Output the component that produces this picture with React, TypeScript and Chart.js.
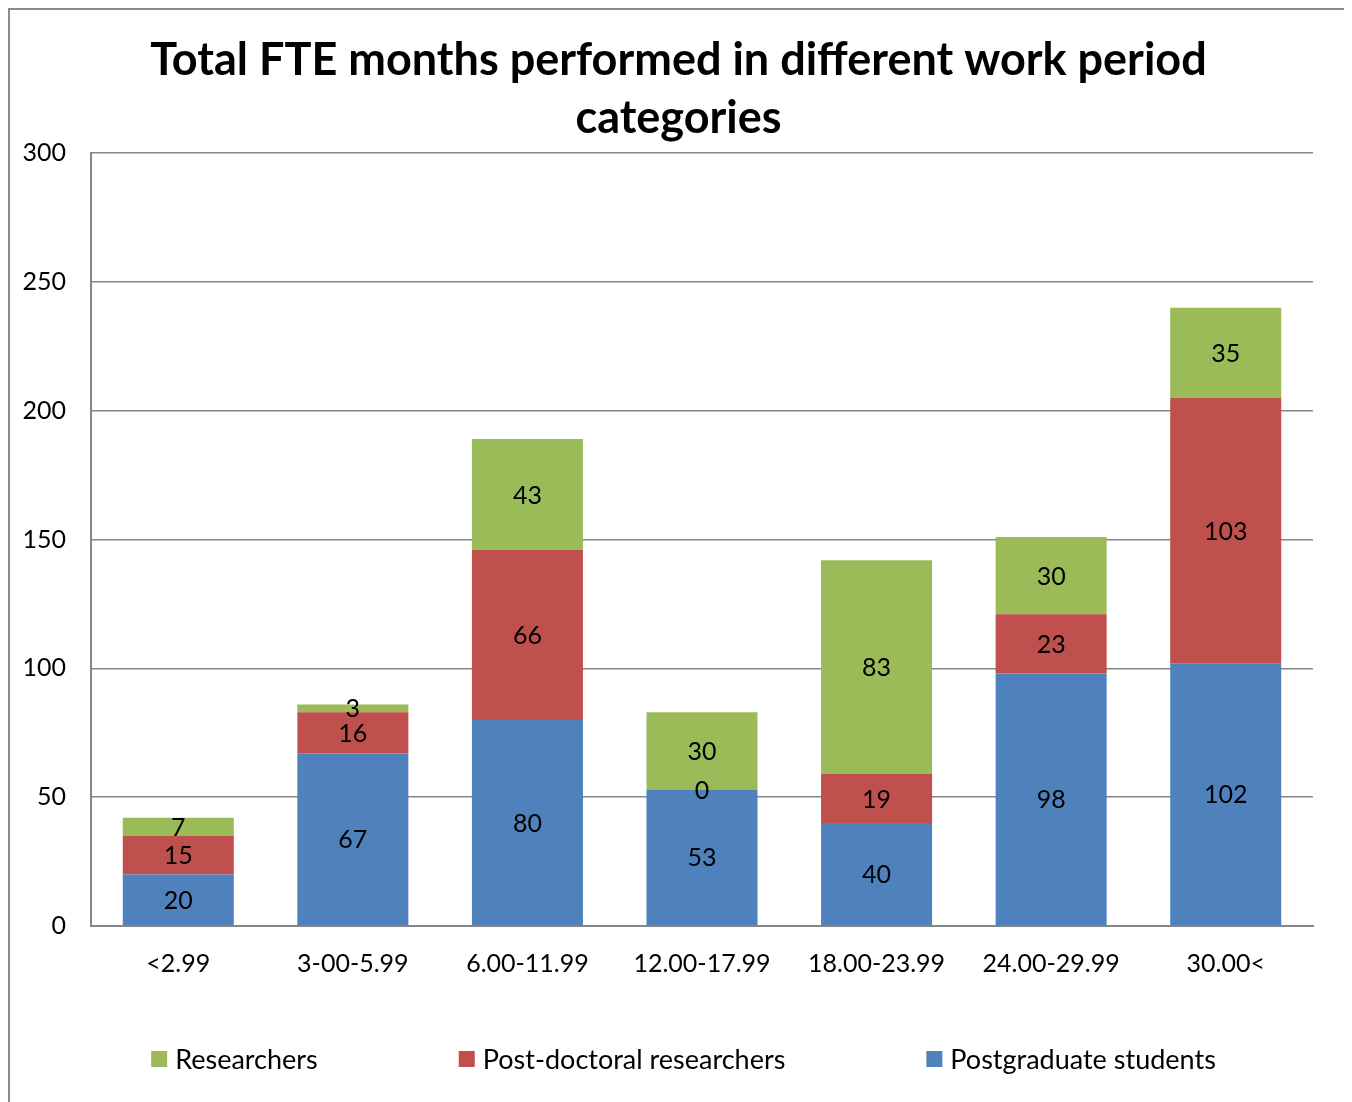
import React, { useEffect, useRef } from "react";
import { Chart, registerables } from "chart.js";

Chart.register(...registerables);

const categories = ["<2.99", "3-00-5.99", "6.00-11.99", "12.00-17.99", "18.00-23.99", "24.00-29.99", "30.00<"];
const postgraduateStudents = [20, 67, 80, 53, 40, 98, 102];
const postDoctoralResearchers = [15, 16, 66, 0, 19, 23, 103];
const researchers = [7, 3, 43, 30, 83, 30, 35];
const titleLines = ["Total FTE months performed in different work period", "categories"];
const yMin = 0;
const yMax = 300;
const yStep = 50;

const FONT = "Lato, 'Open Sans', sans-serif";
const LABEL_SIZE = 25;
const LEGEND_SIZE = 27;

const dataLabelPlugin = {
  id: "segmentLabels",
  afterDatasetsDraw(chart: any) {
    const ctx = chart.ctx;
    ctx.save();
    ctx.font = `${LABEL_SIZE}px ${FONT}`;
    ctx.fillStyle = "#000";
    ctx.textAlign = "center";
    ctx.textBaseline = "middle";
    chart.data.datasets.forEach((ds: any, i: number) => {
      const meta = chart.getDatasetMeta(i);
      meta.data.forEach((bar: any, j: number) => {
        const p = bar.getProps(["x", "y", "base"], true);
        ctx.fillText(String(ds.data[j]), p.x, (p.y + p.base) / 2 + 1);
      });
    });
    ctx.restore();
  },
};

const bottomLegendPlugin = {
  id: "spreadLegend",
  afterDraw(chart: any) {
    const ctx = chart.ctx;
    const items = chart.data.datasets.map((d: any) => ({ text: d.label, color: d.backgroundColor })).reverse();
    const box = 16;
    const gapText = 8;
    const gapItem = 141;
    const cy = 1049;
    ctx.save();
    ctx.font = `${LEGEND_SIZE}px ${FONT}`;
    const widths = items.map((it: any) => box + gapText + ctx.measureText(it.text).width);
    const total = widths.reduce((a: number, b: number) => a + b, 0) + gapItem * (items.length - 1);
    let x = chart.width / 2 + 5 - total / 2;
    ctx.textBaseline = "middle";
    ctx.textAlign = "left";
    items.forEach((it: any, i: number) => {
      ctx.fillStyle = it.color;
      ctx.fillRect(x, cy - box / 2, box, box);
      ctx.fillStyle = "#000";
      ctx.fillText(it.text, x + box + gapText, cy + 1);
      x += widths[i] + gapItem;
    });
    ctx.restore();
  },
};

export default function App() {
  const ref = useRef<HTMLCanvasElement | null>(null);
  useEffect(() => {
    document.documentElement.style.overflow = "hidden";
    const canvas = ref.current;
    if (!canvas) return;
    const chart = new Chart(canvas, {
      type: "bar",
      data: {
        labels: categories,
        datasets: [
          { label: "Postgraduate students", data: postgraduateStudents, backgroundColor: "#4F81BD" },
          { label: "Post-doctoral researchers", data: postDoctoralResearchers, backgroundColor: "#C0504D" },
          { label: "Researchers", data: researchers, backgroundColor: "#9BBB59" },
        ],
      },
      options: {
        responsive: false,
        animation: false,
        layout: { padding: { left: 0, right: 0, top: 0, bottom: 0 } },
        datasets: { bar: { barPercentage: 0.636, categoryPercentage: 1 } },
        plugins: {
          legend: { display: false },
          tooltip: { enabled: false },
          title: {
            display: true,
            text: titleLines,
            color: "#000",
            font: { family: FONT, size: 45, weight: "bold", lineHeight: 1.29 },
            padding: { top: 21, bottom: 6 },
          },
        },
        scales: {
          x: {
            stacked: true,
            grid: { display: false, drawTicks: false },
            border: { display: true, color: "#868686", width: 2 },
            ticks: { color: "#000", font: { family: FONT, size: LABEL_SIZE }, padding: 23, maxRotation: 0 },
            afterFit: (s: any) => { s.height = 176; },
          },
          y: {
            stacked: true,
            min: yMin,
            max: yMax,
            ticks: { stepSize: yStep, color: "#000", font: { family: FONT, size: LABEL_SIZE }, padding: 25 },
            grid: { color: "#868686", lineWidth: 1.5, drawTicks: false },
            border: { display: true, color: "#868686", width: 2 },
            afterFit: (s: any) => { s.width = 81; },
          },
          pad: {
            type: "linear",
            position: "right",
            display: true,
            ticks: { display: false },
            grid: { display: false, drawTicks: false },
            border: { display: false },
            afterFit: (s: any) => { s.width = 34; },
          },
        },
      },
      plugins: [dataLabelPlugin, bottomLegendPlugin],
    } as any);
    return () => chart.destroy();
  }, []);
  return (
    <div
      style={{
        position: "relative",
        width: 1337,
        height: 1094,
        borderTop: "2px solid #8c8c8c",
        borderLeft: "2px solid #8c8c8c",
        borderRight: "2px solid #8c8c8c",
        background: "#fff",
      }}
    >
      <canvas ref={ref} width={1337} height={1092} style={{ display: "block" }} />
    </div>
  );
}
